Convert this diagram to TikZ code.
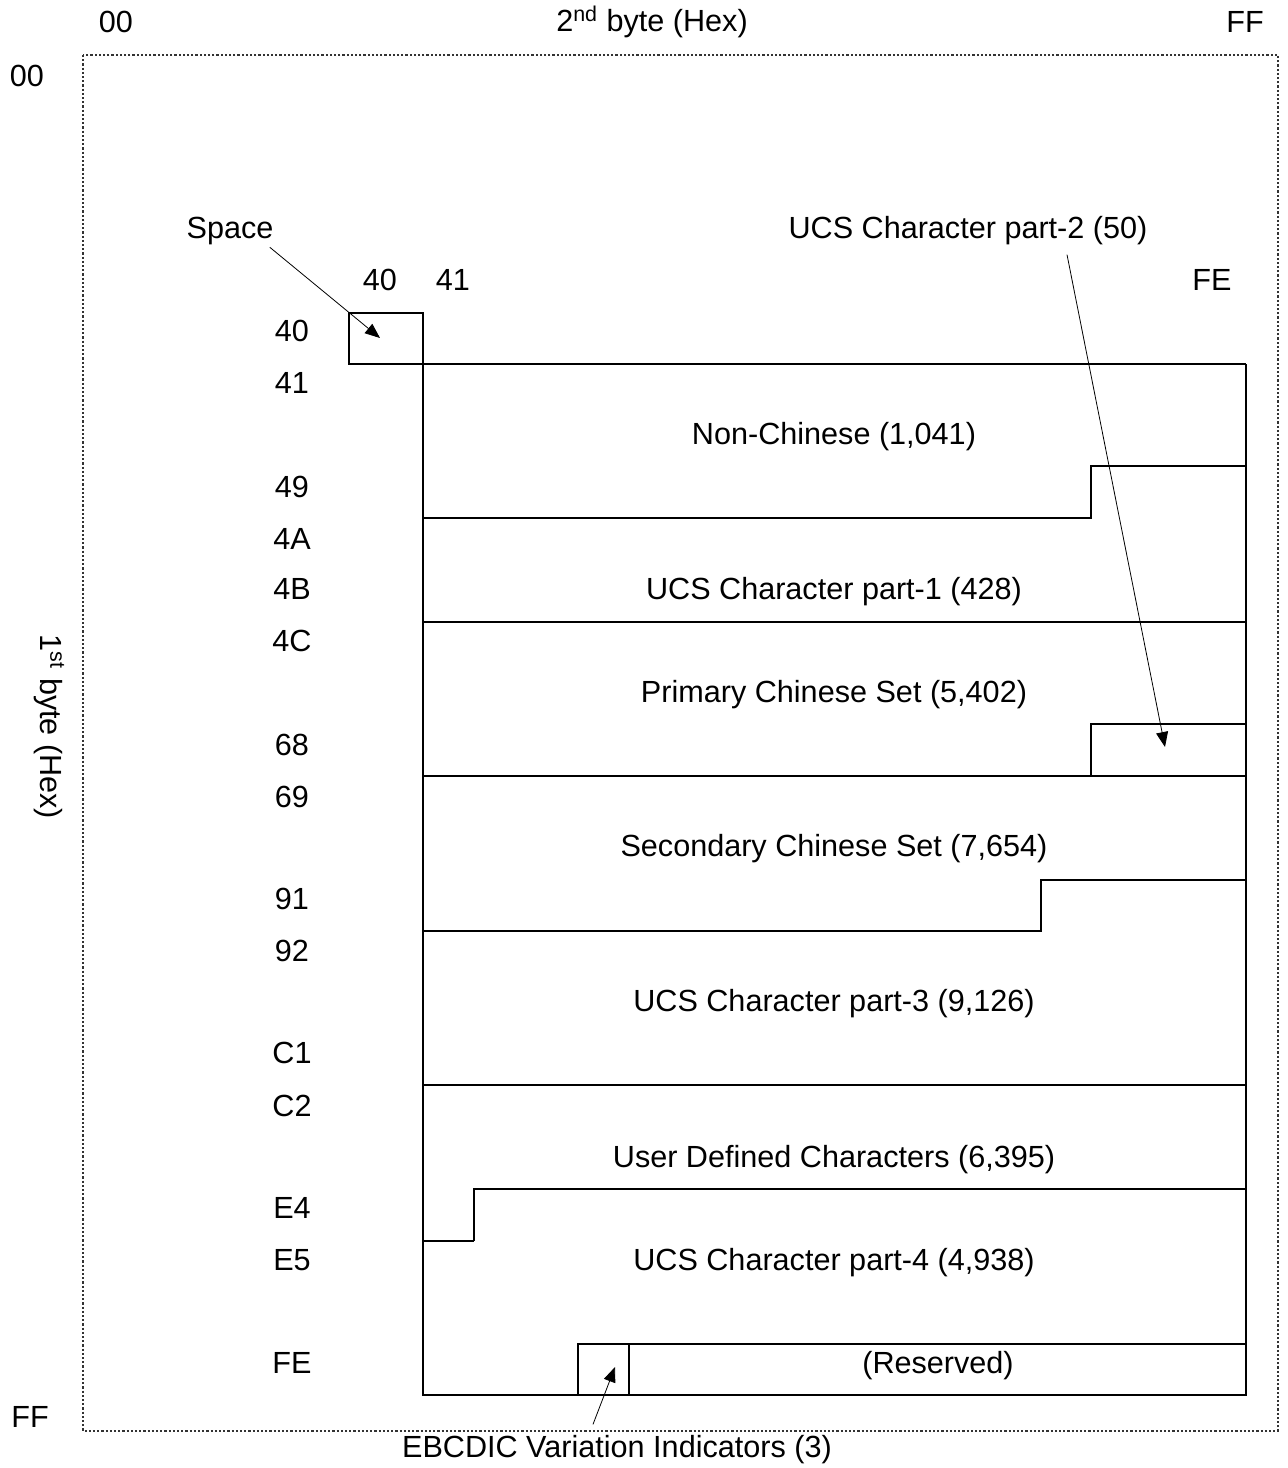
\documentclass[tikz,border=0pt]{standalone}
\usepackage{fontspec}
\setmainfont{Liberation Sans}
\usetikzlibrary{arrows.meta}
\usetikzlibrary{calc}

\begin{document}
\begin{tikzpicture}[x=0.5pt,y=-0.5pt,font=\fontsize{15.3}{18}\selectfont,
	every node/.style={inner sep=1pt},
	lbl/.style={yshift=-1.5pt},
	box/.style={line width=1.3pt},
	thinbox/.style={line width=0.7pt},
	frame/.style={densely dotted,line width=1.1pt,black!80},
	arr/.style={-{Triangle[length=7.5pt,width=6pt]},line width=0.4pt}]
	\useasboundingbox (0,0) rectangle (1287,1468);
	\draw[frame] (83,55) rectangle (1278,1431);
\node (colzero) at (116,22) {00};
\node (colaxis) at (652,22) {2\textsuperscript{nd} byte (Hex)};
\node (colff) at (1245,22) {FF};
\node (rowzero) at (27,76) {00};
\node (rowff) at (30,1417) {FF};
\node[rotate=-90] (rowaxis) at (49,727) {1\textsuperscript{st} byte (Hex)};
	\node (col40) at (380,280) {40};
	\node (col41) at (453,280) {41};
	\node (colfe) at (1212,280) {FE};
	\foreach \lab/\y in {40/331,41/383,49/487,4A/539,4B/589,4C/641,68/745,69/797,91/899,92/951,C1/1053,C2/1106,E4/1208,E5/1260,FE/1363}
		\node (row\lab) at (292,\y) {\lab};
	% regions
	\draw[box] (349,313) rectangle (423,364);
	\draw[thinbox] (423,364) -- (1246,364);
	\draw[box] (423,364) -- (423,1395) -- (1246,1395) -- (1246,364);
	\draw[box] (423,518) -- (1091,518) -- (1091,466) -- (1246,466);
	\draw[thinbox] (423,622) -- (1246,622);
	\draw[box] (423,776) -- (1091,776) -- (1091,724) -- (1246,724);
	\draw[box] (1091,776) -- (1246,776);
	\draw[box] (423,931) -- (1041,931) -- (1041,880) -- (1246,880);
	\draw[box] (423,1085) -- (1246,1085);
	\draw[thinbox] (423,1241) -- (474,1241);
	\draw[box] (474,1241) -- (474,1189) -- (1246,1189);
	\draw[box] (629,1395) -- (629,1344) -- (1246,1344);
	\draw[thinbox] (578,1395) -- (578,1344) -- (629,1344);
	\node[lbl] (nonchinese) at (834,434) {Non-Chinese (1,041)};
	\node[lbl] (ucsone) at (834,589) {UCS Character part-1 (428)};
	\node[lbl] (primary) at (834,692) {Primary Chinese Set (5,402)};
	\node[lbl] (secondary) at (834,846) {Secondary Chinese Set (7,654)};
	\node[lbl] (ucsthree) at (834,1001) {UCS Character part-3 (9,126)};
	\node[lbl] (userdef) at (834,1157) {User Defined Characters (6,395)};
	\node[lbl] (ucsfour) at (834,1260) {UCS Character part-4 (4,938)};
	\node[lbl] (reserved) at (938,1363) {(Reserved)};
	% callouts
	\node[lbl] (space) at (230,228) {Space};
	\node[lbl] (ucstwo) at (968,228) {UCS Character part-2 (50)};
	\node[lbl] (ebcdic) at (617,1447) {EBCDIC Variation Indicators (3)};
	\coordinate (spacetip) at (380,338);
	\coordinate (ucstwotip) at (1165,747);
	\coordinate (ebcdictip) at (615,1367);
	\draw[arr] ($(space.south east)+(-6,0)$) -- (spacetip);
	\draw[arr] ($(ucstwo.south)+(99,7)$) -- (ucstwotip);
	\draw[arr] ($(ebcdic.north)+(-24,-9)$) -- (ebcdictip);
\end{tikzpicture}
\end{document}
